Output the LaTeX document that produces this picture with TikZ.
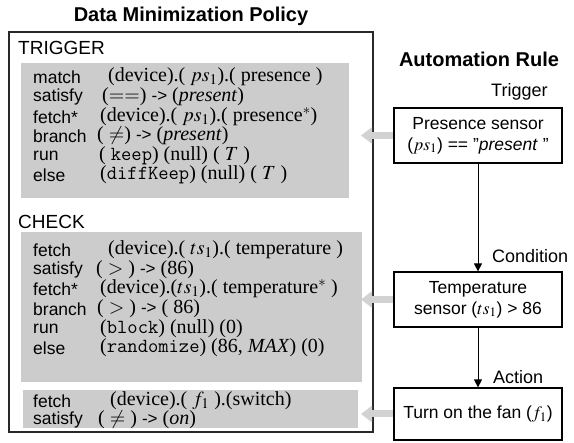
\documentclass[tikz,border=0pt]{standalone}
\usepackage{mathptmx}
\usepackage{fontspec}
\setmainfont{Liberation Serif}
\setsansfont{Liberation Sans}
\usetikzlibrary{arrows.meta}
\tikzstyle{canvas} = [x = 1pt, y = -1pt]
\definecolor{panelGray}{RGB}{204,204,204}
\definecolor{arrowGray}{RGB}{210,210,210}
\definecolor{frameColor}{RGB}{40,40,40}
\tikzstyle{titleText} = [font=\fontsize{20}{24}\selectfont\sffamily\bfseries]
\tikzstyle{sectionText} = [anchor=west, inner sep=0, font=\fontsize{19}{22}\selectfont\sffamily]
\tikzstyle{stageText} = [anchor=west, inner sep=0, font=\fontsize{18}{22}\selectfont\sffamily]
\tikzstyle{policyFrame} = [draw=frameColor, line width=1.2pt]
\tikzstyle{grayPanel} = [fill=panelGray, inner sep=0]
\tikzstyle{rowLabel} = [anchor=west, inner sep=0, font=\fontsize{17.5}{19}\selectfont\sffamily]
\tikzstyle{rowValue} = [anchor=west, inner sep=0, font=\fontsize{20}{21}\selectfont]
\tikzstyle{ruleBox} = [draw=black, line width=1.2pt, minimum width=168pt, align=center, inner sep=2pt, font=\fontsize{17.5}{21}\selectfont\sffamily]
\tikzstyle{flowArrow} = [line width=1pt, -{Triangle[length=8pt, width=8pt]}]
\tikzstyle{grayArrow} = [draw=arrowGray, line width=7pt, -{Triangle[length=11pt, width=16pt]}]
\newcommand{\policyRow}[5]{\node [rowLabel] (#1Label) at (33, #2) {#4}; \node [rowValue] (#1Value) at (#3, #2) {#5};}
\newcommand{\grayPanelAt}[5]{\node [grayPanel, minimum width=#4pt, minimum height=#5pt] (#1) at (#2, #3) {};}
\newcommand{\sto}{{\sffamily\fontsize{17}{19}\selectfont ->}}

\begin{document}
\begin{tikzpicture}[canvas]
\useasboundingbox (0,0) rectangle (574,443);
% left side: the policy
\node [titleText] (policyTitle) at (191,16) {Data Minimization Policy};
\node [policyFrame, minimum width=364pt, minimum height=400pt] (policyFrame) at (191,232) {};
\node [sectionText] (triggerTitle) at (18,48) {TRIGGER};
\grayPanelAt{triggerPanel}{185}{130.5}{328}{135}
\policyRow{match}{77}{108}{match}{(device).( $ps_1$).( presence )}
\policyRow{satisfyA}{97}{102}{satisfy}{($==$) \sto{} (\textit{present})}
\policyRow{fetchStarA}{117}{100}{fetch*}{(device).( $ps_1$).( presence$^*$)}
\policyRow{branchA}{136}{97}{branch}{( $\neq$) \sto{} (\textit{present})}
\policyRow{runA}{156}{99}{run}{( \texttt{keep}) (null) ( $T$ )}
\policyRow{elseA}{175}{100}{else}{(\texttt{diffKeep}) (null) ( $T$ )}
\node [sectionText] (checkTitle) at (18,222) {CHECK};
\grayPanelAt{checkPanel}{191.5}{307}{341}{150}
\policyRow{fetchB}{250}{108}{fetch}{(device).( $ts_1$).( temperature )}
\policyRow{satisfyB}{270}{96}{satisfy}{( $>$ ) \sto{} (86)}
\policyRow{fetchStarB}{289}{100}{fetch*}{(device).($ts_1$).( temperature$^*$ )}
\policyRow{branchB}{309}{97}{branch}{( $>$ ) \sto{} ( 86)}
\policyRow{runB}{329}{100}{run}{(\texttt{block}) (null) (0)}
\policyRow{elseB}{348}{100}{else}{(\texttt{randomize}) (86, \textit{MAX}) (0)}
\grayPanelAt{actionPanel}{190.5}{409}{335}{38}
\policyRow{fetchC}{401}{110}{fetch}{(device).( $f_1$ ).(switch)}
\policyRow{satisfyC}{420}{98}{satisfy}{( $\neq$ ) \sto{} (\textit{on})}
% right side: the rule
\node [titleText] (ruleTitle) at (479,59) {Automation Rule};
\node [stageText] (triggerStage) at (491,92) {Trigger};
\node [ruleBox, minimum height=55pt] (ruleTrigger) at (478,135.5) {Presence sensor\\($ps_1$) == "\textit{present} "};
\node [stageText] (conditionStage) at (492,256) {Condition};
\node [ruleBox, minimum height=55pt] (ruleCondition) at (478,299.5) {Temperature\\sensor ($ts_1$) > 86};
\node [stageText] (actionStage) at (493,377) {Action};
\node [ruleBox, minimum height=52pt] (ruleAction) at (478,414) {Turn on the fan ($f_1$)};
\draw [flowArrow] (ruleTrigger) -- (ruleCondition);
\draw [flowArrow] (ruleCondition) -- (ruleAction);
\coordinate (tipLine) at (361,0);
\draw [grayArrow] (ruleTrigger.west) -- (ruleTrigger.west -| tipLine);
\draw [grayArrow] (ruleCondition.west) -- (ruleCondition.west -| tipLine);
\draw [grayArrow] (ruleAction.west) -- (ruleAction.west -| tipLine);
\end{tikzpicture}
\end{document}
